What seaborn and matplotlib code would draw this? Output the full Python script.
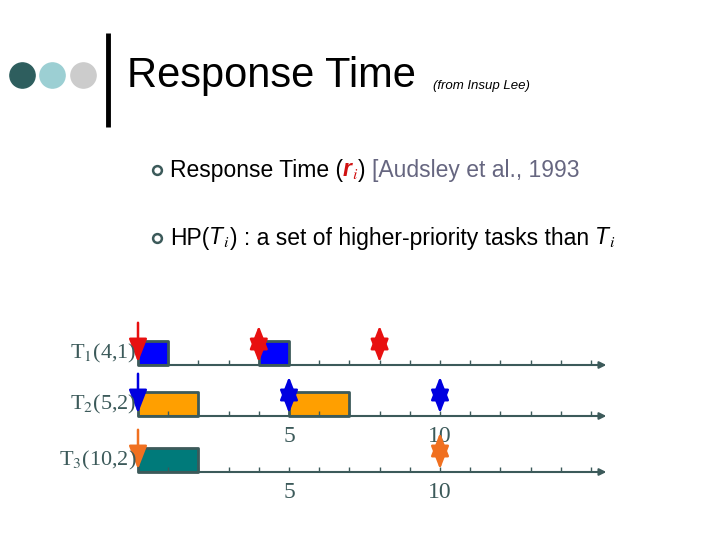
import matplotlib
matplotlib.use("Agg")
import matplotlib.pyplot as plt
import seaborn as sns

sns.set_style("white")
plt.rcParams['font.family'] = ['Liberation Sans', 'DejaVu Sans']
plt.rcParams['text.color'] = 'black'
plt.rcParams['mathtext.fontset'] = 'stix'

# data
task_labels = ["T$_1$(4,1)", "T$_2$(5,2)", "T$_3$(10,2)"]
task_colors = ["#0000ff", "#ff9f00", "#007a7a"]
arrow_colors = ["#e81010", "#0000e0", "#f07020"]
exec_blocks = [[(0, 1), (4, 1)], [(0, 2), (5, 2)], [(0, 2)]]
deadlines = [[4, 8], [5, 10], [10]]
tick_times = list(range(0, 16))
axis_labels = [None, ["5", "10"], ["5", "10"]]
axis_label_times = [5, 10]

W, H = 720, 540
fig = plt.figure(figsize=(7.2, 5.4), dpi=100)
ax = fig.add_axes([0, 0, 1, 1])
px0, ppu = 138, 30.2
ax.set_xlim(-px0 / ppu, (W - px0) / ppu)
ax.set_ylim(H, 0)
ax.axis("off")

def px(x):
    return (x - px0) / ppu

line_y = [365, 416, 472]
bar_h = 24
axis_col = "#3c5a5a"
serif = ['Liberation Serif', 'DejaVu Serif']

for i, y in enumerate(line_y):
    ax.annotate("", xy=(15.6, y), xytext=(0, y),
                arrowprops=dict(arrowstyle="-|>", color=axis_col, lw=1.5, mutation_scale=10))
    ax.vlines(tick_times, y - 5, y, color=axis_col, lw=1)
    ax.broken_barh(exec_blocks[i], (y - bar_h, bar_h), facecolors=task_colors[i],
                   edgecolor=axis_col, lw=2)
    ax.annotate("", xy=(0, y), xytext=(0, y - 45),
                arrowprops=dict(arrowstyle="-|>,head_width=0.35,head_length=0.9",
                                color=arrow_colors[i], lw=1.8, mutation_scale=16))
    for d in deadlines[i]:
        ax.annotate("", xy=(d, y), xytext=(d, y - 42),
                    arrowprops=dict(arrowstyle="<|-|>,head_width=0.35,head_length=0.9",
                                    color=arrow_colors[i], lw=1.8, mutation_scale=16))
    ax.text(-0.05, y - 12, task_labels[i], ha="right", va="center", fontsize=16,
            color="#3c5a5a", family=serif)
    if axis_labels[i]:
        for t, lab in zip(axis_label_times, axis_labels[i]):
            ax.text(t, y + 20, lab, ha="center", va="center", fontsize=17,
                    color="#3c5a5a", family=serif)

# slide decorations
for cx, c in zip([22, 52, 83], ["#2e5e5e", "#9ccfd3", "#cccccc"]):
    ax.scatter([px(cx)], [75], s=330, color=c, zorder=3)
ax.vlines(px(108), 33, 127, color="black", lw=3.5)
ax.text(px(127), 76, "Response Time", fontsize=30, va="center", ha="left")
ax.text(px(433), 86, "(from Insup Lee)", fontsize=9.5, style="italic", va="center", ha="left")

ax.scatter([px(157), px(157)], [170, 238], s=40, facecolors="white",
           edgecolors="#3c5a5a", linewidths=1.8)

fig.canvas.draw()
r = fig.canvas.get_renderer()

def rich(x0, y, pieces):
    x = px(x0)
    for txt, kw in pieces:
        t = ax.text(x, y, txt, va="center", ha="left", fontsize=16.5, **kw)
        bb = t.get_window_extent(r)
        x += bb.width / ppu

rich(170, 170, [("Response Time (", {}),
                ("r", dict(color="#d01010", style="italic", weight="bold")),
                ("$_i$", dict(color="#d01010")),
                (") ", {}),
                ("[Audsley et al., 1993", dict(color="#666680"))])
rich(170, 238, [("HP(", {}), ("T", dict(style="italic")), ("$_i$", {}),
                (") : a set of higher-priority tasks than ", {}),
                ("T", dict(style="italic")), ("$_i$", {})])

fig.savefig("out.png", dpi=100)
